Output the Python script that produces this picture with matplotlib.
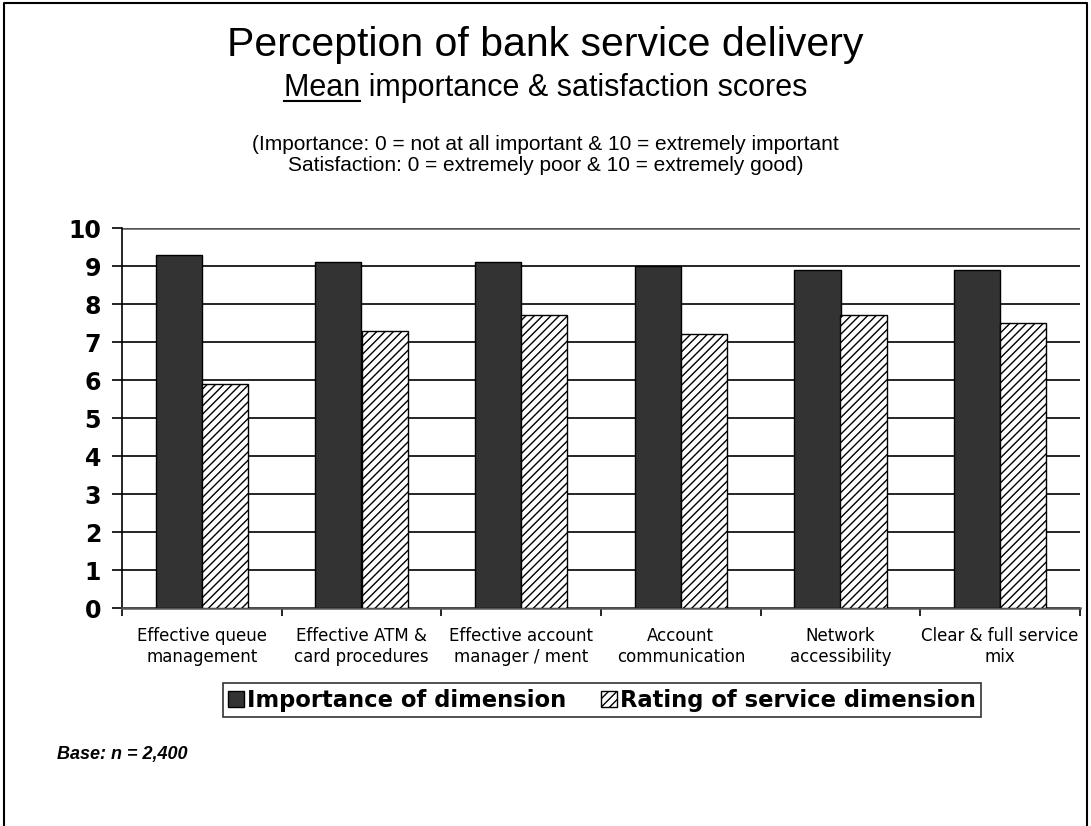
import matplotlib
matplotlib.use("Agg")
import matplotlib.pyplot as plt
import numpy as np
from matplotlib.lines import Line2D
from matplotlib.patches import Patch

categories = ["Effective queue\nmanagement", "Effective ATM &\ncard procedures",
              "Effective account\nmanager / ment", "Account\ncommunication",
              "Network\naccessibility", "Clear & full service\nmix"]
importance = [9.3, 9.1, 9.1, 9.0, 8.9, 8.9]
rating = [5.9, 7.3, 7.7, 7.2, 7.7, 7.5]
series_names = ["Importance of dimension", "Rating of service dimension"]
yticks = list(range(0, 11))

plt.rcParams['hatch.linewidth'] = 1.0
fig = plt.figure(figsize=(10.91, 8.26), dpi=100)
ax = fig.add_axes([122/1091, 1-608/826, (1080-122)/1091, (608-228)/826])

x = np.arange(len(categories))
w = 0.29
ax.bar(x - w/2, importance, width=w, color="#333333", edgecolor="black", linewidth=1, zorder=3)
ax.bar(x + w/2, rating, width=w, color="white", edgecolor="black", hatch="////", linewidth=1, zorder=3)

ax.set_xlim(-0.5, len(categories) - 0.5)
ax.set_ylim(0, 10)
ax.set_yticks(yticks)
ax.set_yticklabels([str(t) for t in yticks], fontsize=17, fontweight="bold", family="DejaVu Sans")
ax.yaxis.grid(True, color="black", linewidth=1.2, zorder=0)
gl = ax.get_ygridlines()
gl[-1].set_color("#555555")
gl[-1].set_linewidth(1.8)
ax.set_axisbelow(True)
ax.tick_params(axis="y", length=7, width=1.2, pad=8)

ax.set_xticks(x)
ax.set_xticklabels(categories, fontsize=12, family="DejaVu Sans", linespacing=1.15)
ax.tick_params(axis="x", which="major", length=0, pad=14)
ax.set_xticks(np.arange(-0.5, len(categories), 1.0), minor=True)
ax.tick_params(axis="x", which="minor", length=6, width=1.2, direction="out")

for s in ["top", "right"]:
    ax.spines[s].set_visible(False)
ax.spines["left"].set_linewidth(1.2)
ax.spines["bottom"].set_linewidth(1.8)
ax.spines["bottom"].set_color("#555555")

handles = [Patch(facecolor="#333333", edgecolor="black"),
           Patch(facecolor="white", edgecolor="black", hatch="////")]
leg = fig.legend(handles, series_names, loc="center", bbox_to_anchor=(602/1091, 1-700/826),
                 ncol=2, frameon=True, fancybox=False, edgecolor="black",
                 prop={"family": "DejaVu Sans", "weight": "bold", "size": 16.3},
                 handlelength=0.7, handleheight=0.7, handletextpad=0.15, columnspacing=1.5,
                 borderpad=0.25, borderaxespad=0)
leg.get_frame().set_linewidth(1.2)

# Titles
fig.text(0.5, 1-45/826, "Perception of bank service delivery", ha="center", va="center",
         fontsize=29.5, family="Liberation Sans")
line2 = fig.text(0.5, 1-88/826, "Mean importance & satisfaction scores", ha="center", va="center",
                 fontsize=22, family="Liberation Sans")
fig.text(0.5, 1-155/826, "(Importance: 0 = not at all important & 10 = extremely important\nSatisfaction: 0 = extremely poor & 10 = extremely good)",
         ha="center", va="center", fontsize=15, family="Liberation Sans", linespacing=1.1)
fig.text(57/1091, 1-755/826, "Base: n = 2,400", ha="left", va="center", fontsize=13,
         family="Liberation Sans", fontweight="bold", fontstyle="italic")

# underline "Mean"
renderer = fig.canvas.get_renderer()
bb = line2.get_window_extent(renderer)
tmp = fig.text(0, 0, "Mean", fontsize=22, family="Liberation Sans")
wb = tmp.get_window_extent(renderer)
tmp.remove()
x0 = bb.x0 / 1091
x1 = (bb.x0 + wb.width) / 1091
yl = (bb.y0 + 2) / 826
fig.add_artist(Line2D([x0, x1], [yl, yl], transform=fig.transFigure, color="black", linewidth=1.5))

# outer frame
fig.add_artist(Line2D([4/1091, 4/1091, 1087/1091, 1087/1091], [0, 1-3/826, 1-3/826, 0],
                      transform=fig.transFigure, color="black", linewidth=1.5))

fig.savefig("out.png", dpi=100)
